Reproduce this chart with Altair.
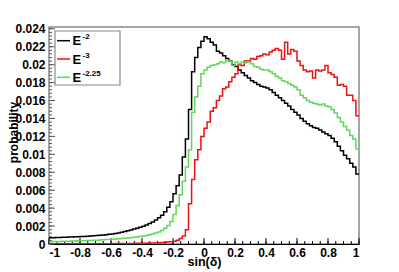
import altair as alt
import pandas as pd
import numpy as np

# ---------------- data ----------------
bin_lo = -1.0
bin_w = 0.02

black = [0.00070,0.00071,0.00072,0.00073,0.00074,0.00075,0.00077,0.00078,0.00080,0.00081,
         0.00083,0.00085,0.00087,0.00090,0.00092,0.00095,0.00098,0.00101,0.00104,0.00108,
         0.00112,0.00118,0.00124,0.00132,0.00140,0.00148,0.00157,0.00166,0.00176,0.00186,
         0.00198,0.00212,0.00228,0.00246,0.00268,0.00292,0.00322,0.00360,0.00410,0.00470,
         0.00560,0.00650,0.00770,0.00970,0.01170,0.01500,0.01920,0.02080,0.02190,0.02260,
         0.02310,0.02290,0.02250,0.02220,0.02150,0.02130,0.02100,0.02070,0.02040,0.02000,
         0.01980,0.01940,0.01910,0.01880,0.01850,0.01820,0.01800,0.01780,0.01760,0.01750,
         0.01740,0.01720,0.01690,0.01660,0.01630,0.01600,0.01570,0.01540,0.01500,0.01470,
         0.01440,0.01400,0.01370,0.01340,0.01320,0.01300,0.01290,0.01270,0.01250,0.01230,
         0.01210,0.01180,0.01140,0.01090,0.01040,0.00990,0.00950,0.00900,0.00860,0.00780]

red = [0.00002,0.00002,0.00002,0.00002,0.00002,0.00002,0.00002,0.00003,0.00003,0.00003,
       0.00003,0.00003,0.00003,0.00003,0.00003,0.00004,0.00004,0.00004,0.00004,0.00004,
       0.00004,0.00005,0.00005,0.00005,0.00005,0.00006,0.00006,0.00006,0.00007,0.00007,
       0.00008,0.00009,0.00010,0.00011,0.00012,0.00014,0.00016,0.00019,0.00022,0.00026,
       0.00032,0.00042,0.00060,0.00090,0.00160,0.00450,0.00720,0.00940,0.01050,0.01200,
       0.01290,0.01360,0.01480,0.01520,0.01600,0.01650,0.01730,0.01750,0.01810,0.01860,
       0.01900,0.02000,0.01990,0.02040,0.02040,0.02070,0.02060,0.02090,0.02100,0.02120,
       0.02110,0.02140,0.02160,0.02180,0.02160,0.02060,0.02250,0.02120,0.02170,0.02150,
       0.02040,0.01990,0.01940,0.01920,0.01930,0.01850,0.01940,0.01930,0.01940,0.01990,
       0.01910,0.01890,0.01860,0.01770,0.01780,0.01760,0.01660,0.01660,0.01600,0.01430]

green = [0.00026,0.00027,0.00028,0.00029,0.00030,0.00031,0.00032,0.00033,0.00034,0.00035,
         0.00036,0.00037,0.00039,0.00040,0.00042,0.00043,0.00045,0.00047,0.00049,0.00051,
         0.00053,0.00055,0.00058,0.00061,0.00064,0.00067,0.00071,0.00075,0.00079,0.00083,
         0.00088,0.00095,0.00103,0.00112,0.00122,0.00135,0.00150,0.00175,0.00205,0.00250,
         0.00330,0.00430,0.00550,0.00700,0.00860,0.01050,0.01470,0.01640,0.01760,0.01900,
         0.01940,0.01970,0.01990,0.02000,0.02010,0.02030,0.02020,0.02050,0.02040,0.01990,
         0.02030,0.02010,0.02030,0.02020,0.02030,0.02010,0.01980,0.01970,0.01950,0.01940,
         0.01940,0.01920,0.01900,0.01870,0.01850,0.01820,0.01810,0.01790,0.01770,0.01750,
         0.01720,0.01660,0.01630,0.01600,0.01580,0.01570,0.01560,0.01550,0.01560,0.01540,
         0.01530,0.01500,0.01460,0.01410,0.01360,0.01310,0.01270,0.01210,0.01170,0.01060]

series_vals = [black, red, green]
series_colors = ["#000000", "#ee1111", "#5cd957"]
legend_base = ["E", "E", "E"]
legend_exp = ["-2", "-3", "-2.25"]

x_major = [-1, -0.8, -0.6, -0.4, -0.2, 0, 0.2, 0.4, 0.6, 0.8, 1]
y_major = [0, 0.002, 0.004, 0.006, 0.008, 0.010, 0.012, 0.014, 0.016, 0.018, 0.020, 0.022, 0.024]
x_minor_step = 0.05
y_minor_step = 0.0004
y_top = 0.0242

W, H = 310, 217
FONT = "Liberation Sans"

# ---------------- scales / axes ----------------
xscale = alt.Scale(domain=[-1, 1], nice=False, zero=False)
yscale = alt.Scale(domain=[0, y_top], nice=False, zero=False)

xaxis = alt.Axis(values=x_major, ticks=False, grid=False, domain=True,
                 domainColor="black", domainWidth=1,
                 labelFont=FONT, labelFontWeight="bold", labelFontSize=12,
                 labelColor="black", labelPadding=3,
                 labelExpr="replace(format(datum.value, '.1~f'), '\u2212', '-')",
                 title="sin(\u03b4)", titleFont=FONT, titleFontWeight="bold",
                 titleFontSize=12.5, titleColor="black",
                 titleBaseline="alphabetic", titleY=21.5, titleX=W / 2)
yaxis = alt.Axis(values=y_major, ticks=False, grid=False, domain=False,
                 labelFont=FONT, labelFontWeight="bold", labelFontSize=12,
                 labelColor="black", labelPadding=4, format=".3~f",
                 title="probability", titleFont=FONT, titleFontWeight="bold",
                 titleFontSize=12, titleColor="black", titleAngle=-90,
                 titleBaseline="alphabetic", titleAlign="center",
                 titleX=-32, titleY=105)


def X(field):
    return alt.X(field, type="quantitative", scale=xscale, axis=xaxis)


def Y(field):
    return alt.Y(field, type="quantitative", scale=yscale, axis=yaxis)


edges = bin_lo + bin_w * np.arange(len(black) + 1)

layers = []
for vals, col in zip(series_vals, series_colors):
    df = pd.DataFrame({"x": edges, "v": list(vals) + [vals[-1]]})
    layers.append(
        alt.Chart(df).mark_line(interpolate="step-after", strokeWidth=1.5,
                                color=col, clip=True)
        .encode(x=X("x"), y=Y("v"))
    )

# ---------------- inside ticks ----------------
x_minor = [v for v in np.round(np.arange(-1, 1.0001, x_minor_step), 4)]
y_minor = [v for v in np.round(np.arange(0, y_top, y_minor_step), 6)]

xt_major = alt.Chart(pd.DataFrame({"t": x_major})).mark_rule(color="black", strokeWidth=1).encode(
    x=X("t"), y=alt.value(H), y2=alt.value(H - 6))
xt_minor = alt.Chart(pd.DataFrame({"t": x_minor})).mark_rule(color="black", strokeWidth=1).encode(
    x=X("t"), y=alt.value(H), y2=alt.value(H - 3))
yt_major = alt.Chart(pd.DataFrame({"t": y_major})).mark_rule(color="#555555", strokeWidth=1).encode(
    y=Y("t"), x=alt.value(0), x2=alt.value(6))
yt_minor = alt.Chart(pd.DataFrame({"t": y_minor})).mark_rule(color="#555555", strokeWidth=1).encode(
    y=Y("t"), x=alt.value(0), x2=alt.value(3))

# ---------------- legend (drawn as marks) ----------------
one = pd.DataFrame({"a": [0]})
legend_layers = [
    alt.Chart(one).mark_rect(fill="white", stroke="#888888", strokeWidth=1.2).encode(
        x=alt.value(6), x2=alt.value(71), y=alt.value(4), y2=alt.value(58))
]
row_y = [13.7, 32.0, 50.3]
for base, exp, col, ry in zip(legend_base, legend_exp, series_colors, row_y):
    d = pd.DataFrame({"b": [base], "e": [exp]})
    legend_layers.append(
        alt.Chart(d).mark_rule(color=col, strokeWidth=1.5).encode(
            x=alt.value(8), x2=alt.value(21), y=alt.value(ry)))
    legend_layers.append(
        alt.Chart(d).mark_text(font=FONT, fontWeight="bold", fontSize=13, align="left",
                               baseline="alphabetic", color="black").encode(
            text="b:N", x=alt.value(23.5), y=alt.value(ry + 4.6)))
    legend_layers.append(
        alt.Chart(d).mark_text(font=FONT, fontWeight="bold", fontSize=8, align="left",
                               baseline="alphabetic", color="black").encode(
            text="e:N", x=alt.value(33.5), y=alt.value(ry - 1.5)))

chart = alt.layer(yt_minor, yt_major, xt_minor, xt_major, *layers, *legend_layers).properties(
    width=W, height=H,
    autosize=alt.AutoSizeParams(type="none"),
    padding={"left": 41, "top": 19, "right": 32, "bottom": 27},
    background="white",
).configure_view(stroke="#888888", strokeWidth=1.5)

chart.save("out.html", embed_options={"renderer": "svg", "actions": False})
